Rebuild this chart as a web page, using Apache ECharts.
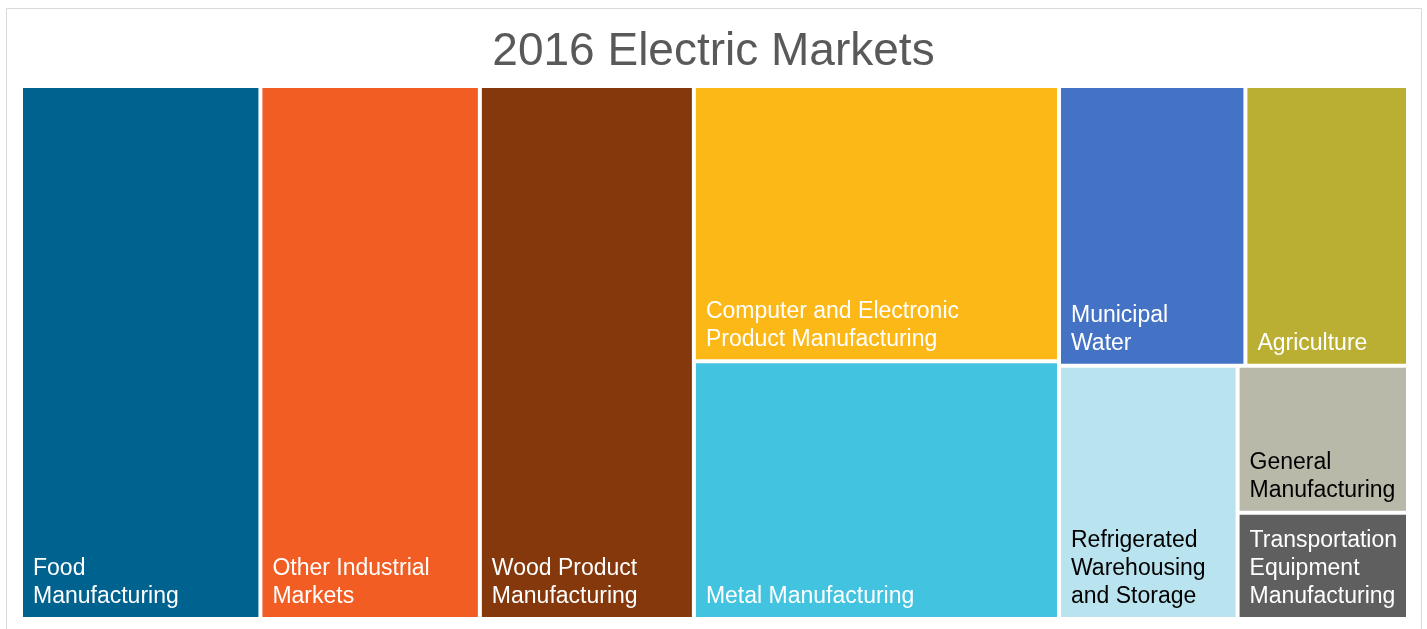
<!DOCTYPE html>
<html>
<head>
<meta charset="utf-8">
<script src="https://cdn.jsdelivr.net/npm/echarts@6/dist/echarts.min.js"></script>
<style>
  html, body { margin: 0; padding: 0; background: #ffffff; }
  #chart { width: 1427px; height: 629px; }
</style>
</head>
<body>
<div id="chart"></div>
<script>
// 2016 electric market shares, percent of total
const categories = [
  'Food\nManufacturing',
  'Other Industrial\nMarkets',
  'Wood Product\nManufacturing',
  'Computer and Electronic\nProduct Manufacturing',
  'Metal Manufacturing',
  'Municipal\nWater',
  'Agriculture',
  'Refrigerated\nWarehousing\nand Storage',
  'General\nManufacturing',
  'Transportation\nEquipment\nManufacturing'
];
const shares = [17.26, 15.82, 15.43, 13.59, 12.73, 7.05, 6.15, 6.12, 3.39, 2.45];

const tileColors = [
  '#00628F', '#F15D22', '#84380B', '#FCB817', '#42C3DF',
  '#4472C4', '#BAAF33', '#B9E3EF', '#B9B9AA', '#5F5F5F'
];
const labelColors = [
  '#ffffff', '#ffffff', '#ffffff', '#ffffff', '#ffffff',
  '#ffffff', '#ffffff', '#000000', '#000000', '#ffffff'
];

// How the markets are blocked together (indices into the arrays above)
const blocks = [0, 1, 2, [3, 4], [[5, 6], [7, [8, 9]]]];

function buildNode(entry) {
  if (Array.isArray(entry)) {
    return { name: '', children: entry.map(buildNode) };
  }
  return {
    name: categories[entry],
    value: shares[entry],
    itemStyle: { color: tileColors[entry], borderWidth: 2, borderColor: '#ffffff' },
    label: { color: labelColors[entry] }
  };
}

const chart = echarts.init(document.getElementById('chart'), null, { renderer: 'canvas' });

chart.setOption({
  animation: false,
  backgroundColor: '#ffffff',
  title: {
    text: '2016 Electric Markets',
    left: 'center',
    top: 29,
    padding: 0,
    textStyle: {
      fontFamily: "'Liberation Sans', Arial, sans-serif",
      fontSize: 46,
      fontWeight: 'normal',
      color: '#595959'
    }
  },
  graphic: [{
    type: 'rect',
    silent: true,
    shape: { x: 6.5, y: 8.5, width: 1415, height: 640 },
    style: { fill: 'none', stroke: '#d9d9d9', lineWidth: 1 }
  }],
  series: [{
    type: 'treemap',
    left: 21,
    top: 86,
    width: 1387,
    height: 533,
    roam: false,
    nodeClick: false,
    sort: false,
    squareRatio: 0.01,
    breadcrumb: { show: false },
    itemStyle: { borderWidth: 0, gapWidth: 0, borderColor: '#ffffff' },
    label: {
      show: true,
      position: 'insideBottomLeft',
      distance: 6,
      padding: [0, 0, 0, 4],
      overflow: 'none',
      fontFamily: "'Liberation Sans', Arial, sans-serif",
      fontSize: 23,
      lineHeight: 28,
      color: '#ffffff'
    },
    data: blocks.map(buildNode)
  }]
});
</script>
</body>
</html>
